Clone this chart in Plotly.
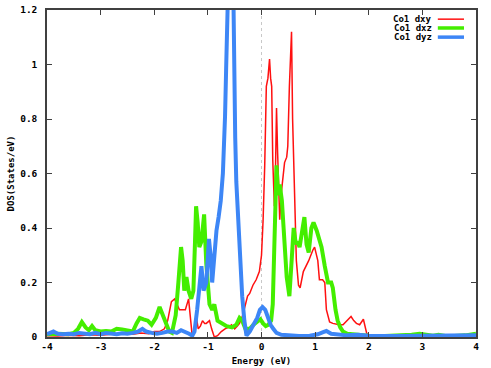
import plotly.graph_objects as go

# ---------------- data ----------------
series_names = ["Co1 dxy", "Co1 dxz", "Co1 dyz"]

e_dxy = [-4.0, -3.8, -3.6, -3.4, -3.2, -3.0, -2.8, -2.6, -2.4, -2.25, -2.1, -2.0, -1.9, -1.81, -1.75,
         -1.68, -1.62, -1.56, -1.53, -1.47, -1.42, -1.36, -1.32, -1.29, -1.25, -1.22, -1.18, -1.14,
         -1.1, -1.06, -1.03, -0.97, -0.93, -0.88, -0.82, -0.75, -0.68, -0.62, -0.56, -0.5, -0.45,
         -0.41, -0.35, -0.3, -0.26, -0.22, -0.16, -0.1, -0.04, 0.0, 0.03, 0.06, 0.09, 0.12, 0.15,
         0.17, 0.19, 0.21, 0.24, 0.26, 0.28, 0.3, 0.34, 0.37, 0.43, 0.47, 0.49, 0.52, 0.56, 0.58,
         0.62, 0.65, 0.69, 0.72, 0.78, 0.88, 0.96, 0.99, 1.05, 1.08, 1.14, 1.18, 1.21, 1.27, 1.33,
         1.45, 1.52, 1.6, 1.67, 1.72, 1.77, 1.83, 1.9, 1.96, 2.0, 2.5, 3.0, 3.5, 4.0]
v_dxy = [0.005, 0.004, 0.006, 0.005, 0.008, 0.006, 0.01, 0.012, 0.01, 0.015, 0.012, 0.02, 0.02, 0.03,
         0.06, 0.13, 0.14, 0.11, 0.1, 0.1, 0.1, 0.14, 0.07, 0.0, 0.03, 0.08, 0.03, 0.04, 0.06, 0.05,
         0.05, 0.06, 0.03, 0.0, 0.005, 0.02, 0.03, 0.035, 0.045, 0.03, 0.04, 0.05, 0.08, 0.12, 0.15,
         0.16, 0.19, 0.21, 0.24, 0.3, 0.43, 0.63, 0.92, 0.95, 1.02, 0.95, 0.92, 0.65, 0.48, 0.6,
         0.84, 0.68, 0.43, 0.53, 0.64, 0.66, 0.7, 0.92, 1.12, 0.8, 0.55, 0.28, 0.19, 0.18, 0.24,
         0.28, 0.32, 0.33, 0.28, 0.21, 0.21, 0.2, 0.1, 0.055, 0.05, 0.045, 0.045, 0.06, 0.075, 0.06,
         0.05, 0.045, 0.065, 0.015, 0.0, 0.0, 0.0, 0.0, 0.0]

e_dxz = [-4.0, -3.8, -3.6, -3.5, -3.42, -3.35, -3.28, -3.22, -3.16, -3.1, -3.0, -2.9, -2.8, -2.7,
         -2.6, -2.5, -2.4, -2.33, -2.27, -2.2, -2.12, -2.05, -1.97, -1.9, -1.84, -1.78, -1.72, -1.67,
         -1.6, -1.55, -1.5, -1.47, -1.44, -1.4, -1.36, -1.31, -1.27, -1.24, -1.22, -1.19, -1.16,
         -1.12, -1.07, -1.03, -0.97, -0.92, -0.88, -0.82, -0.75, -0.65, -0.55, -0.47, -0.41, -0.36,
         -0.3, -0.22, -0.15, -0.08, -0.02, 0.03, 0.08, 0.13, 0.18, 0.21, 0.24, 0.26, 0.28, 0.31,
         0.34, 0.38, 0.42, 0.47, 0.52, 0.56, 0.6, 0.64, 0.67, 0.71, 0.75, 0.8, 0.84, 0.88, 0.93,
         0.97, 1.03, 1.08, 1.12, 1.18, 1.24, 1.3, 1.33, 1.38, 1.42, 1.47, 1.52, 1.6, 1.8, 2.0, 2.3,
         2.6, 2.8, 2.95, 3.05, 3.2, 3.3, 3.45, 3.6, 3.8, 4.0]
v_dxz = [0.01, 0.012, 0.01, 0.015, 0.03, 0.055, 0.035, 0.025, 0.04, 0.025, 0.02, 0.022, 0.02, 0.03,
         0.028, 0.025, 0.02, 0.05, 0.07, 0.065, 0.06, 0.045, 0.07, 0.11, 0.08, 0.05, 0.02, 0.015,
         0.08, 0.2, 0.33, 0.28, 0.17, 0.22, 0.17, 0.14, 0.17, 0.35, 0.48, 0.42, 0.33, 0.35, 0.45,
         0.27, 0.12, 0.1, 0.12, 0.06, 0.05, 0.04, 0.035, 0.045, 0.07, 0.06, 0.03, 0.03, 0.045,
         0.055, 0.065, 0.05, 0.04, 0.045, 0.06, 0.12, 0.35, 0.55, 0.63, 0.52, 0.56, 0.5, 0.38,
         0.22, 0.15, 0.28, 0.4, 0.34, 0.35, 0.33, 0.38, 0.44, 0.34, 0.31, 0.4, 0.42, 0.39, 0.36,
         0.33, 0.26, 0.2, 0.2, 0.18, 0.1, 0.06, 0.035, 0.02, 0.012, 0.008, 0.005, 0.004, 0.005,
         0.008, 0.012, 0.01, 0.005, 0.008, 0.003, 0.004, 0.006, 0.012]

e_dyz = [-4.0, -3.95, -3.88, -3.8, -3.7, -3.6, -3.5, -3.4, -3.3, -3.2, -3.1, -3.0, -2.9, -2.8, -2.7,
         -2.6, -2.5, -2.4, -2.3, -2.22, -2.15, -2.05, -1.95, -1.85, -1.75, -1.66, -1.58, -1.5, -1.42,
         -1.35, -1.29, -1.25, -1.2, -1.15, -1.12, -1.08, -1.03, -0.98, -0.95, -0.92, -0.88, -0.84,
         -0.8, -0.76, -0.72, -0.7, -0.68, -0.66, -0.63, -0.61, -0.57, -0.54, -0.53, -0.51, -0.49,
         -0.47, -0.41, -0.36, -0.32, -0.28, -0.22, -0.17, -0.13, -0.08, -0.03, 0.02, 0.07, 0.12,
         0.17, 0.22, 0.28, 0.37, 0.5, 0.7, 0.9, 1.05, 1.15, 1.21, 1.3, 1.45, 1.6, 1.8, 2.0, 2.5,
         3.0, 3.5, 4.0]
v_dyz = [0.01, 0.015, 0.02, 0.012, 0.01, 0.012, 0.01, 0.015, 0.012, 0.01, 0.015, 0.01, 0.015, 0.012,
         0.01, 0.014, 0.012, 0.015, 0.02, 0.03, 0.02, 0.015, 0.012, 0.015, 0.02, 0.02, 0.015, 0.025,
         0.02, 0.012, 0.005, 0.02, 0.1, 0.2, 0.26, 0.17, 0.2, 0.36, 0.3, 0.2, 0.3, 0.39, 0.44, 0.5,
         0.6, 0.68, 0.81, 0.98, 1.14, 1.4, 1.7, 1.5, 1.3, 0.9, 0.73, 0.57, 0.33, 0.15, 0.06, 0.005,
         0.02, 0.04, 0.05, 0.07, 0.1, 0.11, 0.1, 0.07, 0.045, 0.03, 0.015, 0.008, 0.005, 0.004,
         0.005, 0.01, 0.018, 0.022, 0.012, 0.008, 0.006, 0.008, 0.005, 0.004, 0.005, 0.004, 0.006]

x_ticks = [-4, -3, -2, -1, 0, 1, 2, 3, 4]
y_ticks = [0, 0.2, 0.4, 0.6, 0.8, 1.0, 1.2]
y_tick_labels = ["0", "0.2", "0.4", "0.6", "0.8", "1", "1.2"]

x_title = "Energy (eV)"
y_title = "DOS(States/eV)"

# ---------------- style ----------------
colors = ["#ff1010", "#44ee00", "#3d86f6"]
widths = [1.5, 4, 4]
FONT = "DejaVu Sans Mono"
AX = "#404040"
tfont = dict(family=FONT, size=9.5, color="#000000", weight="bold")
kfont = dict(family=FONT, size=9, color="#000000", weight="bold")

fig = go.Figure()
for name, ex, vy, c, w in zip(series_names, [e_dxy, e_dxz, e_dyz], [v_dxy, v_dxz, v_dyz], colors, widths):
    fig.add_trace(go.Scatter(x=ex, y=vy, mode="lines", name=name,
                             line=dict(color=c, width=w), showlegend=False))

axis_common = dict(showline=True, linecolor=AX, linewidth=1.5, mirror="ticks", ticks="inside",
                   ticklen=5, tickcolor=AX, tickwidth=1, showgrid=False, zeroline=False,
                   automargin=False, tickfont=tfont)

fig.update_xaxes(range=[-4, 4], tickvals=x_ticks, ticktext=[str(t) for t in x_ticks],
                 title=dict(text=x_title, font=kfont, standoff=7),
                 **axis_common)
fig.update_yaxes(range=[0, 1.2], tickvals=y_ticks, ticktext=y_tick_labels, ticklabelstandoff=6,
                 title=dict(text=y_title, font=kfont, standoff=4),
                 **axis_common)

# vertical dotted line at the Fermi level
fig.add_shape(type="line", xref="x", yref="paper", x0=0, x1=0, y0=0, y1=1,
              line=dict(color="#c8c8c8", width=1, dash="dot"), layer="below")

# gnuplot-style key: text right-aligned, sample line to the right
key_y = [0.972, 0.945, 0.917]
for name, c, w, ky in zip(series_names, colors, widths, key_y):
    fig.add_annotation(xref="paper", yref="paper", x=0.9, y=ky, text=name,
                       showarrow=False, xanchor="right", yanchor="middle", borderpad=0,
                       font=kfont)
    fig.add_shape(type="line", xref="paper", yref="paper", x0=0.911, x1=0.972, y0=ky, y1=ky,
                  line=dict(color=c, width=w if w < 3 else 3.5))

fig.update_layout(width=491, height=368, autosize=False,
                  margin=dict(l=47, r=15, t=10, b=31),
                  paper_bgcolor="white", plot_bgcolor="white",
                  font=dict(family=FONT, size=9, color="#000"))

fig.write_html("out.html", config={"displayModeBar": False},
               post_script="document.body.style.margin='0px';")
